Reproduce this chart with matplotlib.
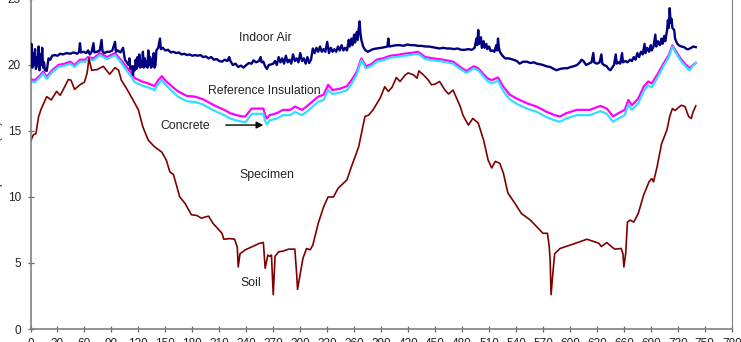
import matplotlib
matplotlib.use("Agg")
import matplotlib.pyplot as plt
import numpy as np

plt.rcParams["font.family"] = ["Liberation Sans", "DejaVu Sans"]

# day axis
X_TICKS = list(range(0, 781, 30))
Y_TICKS = [0, 5, 10, 15, 20, 25]

# (day, temperature) for the soil / specimen trace
SOIL = [
    (0, 14.2), (3, 14.7), (6, 14.8), (9, 16.1), (12, 16.7), (18, 17.6), (23, 17.35), (29, 18.0), (33, 17.7), (38, 18.35),
    (42, 18.9), (45, 18.85), (49, 18.15), (55, 18.5), (60, 18.7), (63, 19.4), (65, 20.5), (68, 19.6), (74, 19.65), (81, 19.9),
    (88, 19.3), (94, 19.8), (98, 19.6), (101, 18.85), (107, 18.2), (114, 17.35), (120, 16.6), (125, 15.3), (131, 14.3), (138, 13.8),
    (146, 13.4), (151, 12.8), (155, 11.9), (159, 11.7), (166, 10.0), (172, 9.5), (179, 8.65), (185, 8.6), (190, 8.4), (198, 8.55),
    (203, 8.0), (213, 7.25), (215, 6.8), (222, 6.85), (227, 6.8), (230, 6.2), (231, 4.7), (233, 5.7), (239, 6.0), (255, 6.5),
    (259, 6.55), (261, 4.6), (264, 5.6), (266, 5.5), (268, 5.6), (270, 2.6), (272, 5.5), (276, 5.85), (281, 5.9), (287, 6.05),
    (294, 6.05), (296, 4.2), (297, 3.0), (300, 4.2), (303, 5.35), (307, 6.1), (311, 6.0), (314, 6.35), (320, 8.0), (326, 9.25),
    (331, 10.0), (337, 10.0), (342, 10.65), (352, 11.3), (357, 12.3), (365, 13.8), (372, 16.1), (376, 16.2), (381, 16.6), (389, 17.5),
    (394, 18.35), (398, 18.0), (402, 18.3), (407, 19.05), (411, 18.75), (417, 19.25), (420, 19.4), (426, 19.25), (430, 19.0), (432, 19.55),
    (437, 19.25), (442, 18.9), (446, 18.5), (450, 18.55), (455, 18.75), (461, 18.1), (465, 17.8), (470, 18.1), (478, 16.85), (481, 16.2),
    (487, 15.45), (492, 15.95), (498, 15.6), (504, 14.3), (509, 12.8), (513, 12.2), (517, 12.7), (522, 12.55), (526, 11.8), (531, 10.3),
    (539, 9.5), (546, 8.75), (556, 8.25), (565, 7.6), (570, 7.25), (575, 7.25), (577, 6.25), (578, 5.2), (579, 2.6), (581, 4.2),
    (583, 5.7), (589, 6.1), (600, 6.35), (619, 6.8), (632, 6.5), (635, 6.25), (641, 6.55), (646, 6.25), (650, 6.05), (657, 6.1),
    (659, 5.7), (660, 4.7), (662, 5.7), (664, 8.1), (667, 8.25), (671, 8.1), (676, 8.75), (682, 10.15), (685, 10.65), (688, 11.15),
    (691, 11.4), (693, 11.15), (697, 12.3), (702, 14.05), (708, 15.1), (711, 16.1), (714, 16.7), (717, 16.55), (721, 16.8), (724, 16.95),
    (728, 16.85), (732, 16.1), (735, 15.95), (737, 16.45), (740, 16.9),
]

# shared days for the two insulation traces
INSUL_DAYS = [
    0, 5, 11, 14, 18, 24, 31, 38, 44, 49,
    55, 61, 64, 70, 77, 85, 94, 99, 105, 111,
    116, 124, 131, 138, 142, 146, 151, 157, 164, 174,
    183, 192, 200, 207, 214, 222, 229, 236, 239, 246,
    259, 261, 263, 266, 274, 281, 289, 294, 302, 307,
    313, 320, 326, 331, 336, 344, 352, 357, 363, 368,
    373, 380, 385, 392, 400, 407, 415, 422, 431, 439,
    448, 459, 470, 480, 485, 493, 498, 508, 513, 520,
    526, 533, 541, 552, 563, 574, 583, 589, 596, 608,
    622, 634, 641, 648, 654, 661, 665, 669, 676, 682,
    687, 691, 697, 704, 710, 714, 717, 723, 728, 733,
    737, 740,
]
REF_INSULATION = [
    18.9, 18.85, 19.25, 19.5, 19.1, 19.6, 20.0, 20.1, 20.25, 20.0,
    20.4, 20.4, 20.6, 20.5, 20.9, 20.6, 20.9, 20.5, 20.0, 19.5,
    19.0, 18.75, 18.6, 18.4, 18.85, 19.15, 18.75, 18.4, 18.0, 17.65,
    17.6, 17.4, 17.1, 16.85, 16.65, 16.35, 16.2, 16.1, 16.1, 16.7,
    16.7, 16.2, 15.95, 16.2, 16.35, 16.6, 16.6, 16.85, 16.6, 16.85,
    17.2, 17.6, 17.75, 18.5, 18.1, 18.2, 18.4, 18.85, 19.5, 20.5,
    19.9, 20.1, 20.4, 20.5, 20.7, 20.75, 20.85, 20.9, 21.0, 20.6,
    20.5, 20.4, 20.25, 19.75, 19.55, 19.9, 19.75, 19.0, 18.85, 19.05,
    18.35, 17.75, 17.45, 17.1, 16.85, 16.45, 16.2, 16.1, 16.35, 16.6,
    16.6, 16.9, 16.7, 16.1, 16.35, 16.6, 17.35, 16.95, 17.45, 18.35,
    18.75, 18.6, 19.25, 20.1, 20.75, 21.5, 21.15, 20.5, 20.1, 19.75,
    20.0, 20.15,
]
CONCRETE = [
    18.75, 18.7, 19.1, 19.35, 18.95, 19.45, 19.85, 19.95, 20.1, 19.85,
    20.25, 20.25, 20.45, 20.35, 20.75, 20.45, 20.75, 20.35, 19.75, 19.2,
    18.7, 18.45, 18.3, 18.1, 18.55, 18.85, 18.45, 18.05, 17.6, 17.25,
    17.2, 17.0, 16.7, 16.45, 16.25, 15.95, 15.8, 15.7, 15.65, 16.3,
    16.3, 15.75, 15.5, 15.8, 15.95, 16.2, 16.2, 16.45, 16.2, 16.45,
    16.8, 17.2, 17.35, 18.1, 17.8, 17.9, 18.1, 18.55, 19.3, 20.35,
    19.75, 19.95, 20.25, 20.35, 20.55, 20.6, 20.7, 20.75, 20.85, 20.45,
    20.35, 20.25, 20.1, 19.6, 19.4, 19.75, 19.6, 18.8, 18.6, 18.8,
    18.0, 17.4, 17.05, 16.7, 16.45, 16.05, 15.8, 15.7, 15.95, 16.2,
    16.2, 16.5, 16.3, 15.7, 15.95, 16.2, 17.0, 16.6, 17.1, 18.0,
    18.45, 18.3, 19.0, 19.9, 20.6, 21.4, 21.0, 20.35, 19.95, 19.6,
    19.95, 20.15,
]

INDOOR_AIR = [
    (0, 20.2), (1, 21.6), (2, 19.8), (3, 20.9), (4, 20.0), (5, 21.2), (6, 19.7), (7, 20.6), (8, 19.9), (9, 21.4),
    (10, 19.6), (11, 20.8), (12, 20.0), (13, 21.3), (14, 19.8), (15, 20.2), (16, 19.6), (18, 19.55), (20, 20.5), (22, 20.4),
    (24, 20.7), (27, 20.75), (30, 20.7), (33, 20.85), (36, 20.8), (40, 20.9), (44, 20.85), (48, 20.95), (52, 20.85), (54, 21.0),
    (55, 21.65), (56, 20.95), (59, 21.0), (62, 20.9), (64, 21.1), (66, 20.8), (68, 21.0), (70, 21.65), (71, 20.95), (74, 21.0),
    (77, 21.1), (79, 21.9), (80, 21.05), (82, 20.9), (85, 21.0), (88, 21.0), (91, 21.1), (94, 21.75), (95, 21.0), (97, 21.1),
    (100, 20.95), (103, 21.3), (104, 20.8), (105, 20.4), (107, 20.2), (109, 20.0), (110, 20.5), (111, 19.7), (113, 19.9), (114, 19.25),
    (115, 19.9), (116, 19.6), (117, 20.4), (118, 19.7), (119, 20.6), (120, 19.9), (121, 20.8), (122, 19.8), (123, 20.3), (124, 19.9),
    (125, 21.0), (126, 19.8), (127, 20.5), (128, 19.9), (129, 20.3), (130, 19.8), (131, 21.1), (132, 20.0), (133, 20.6), (134, 19.8),
    (135, 20.4), (136, 19.9), (137, 20.9), (138, 19.8), (139, 20.0), (140, 21.1), (142, 21.3), (144, 22.0), (145, 21.2), (147, 21.3),
    (150, 21.1), (153, 21.15), (156, 20.95), (159, 21.0), (162, 20.9), (165, 20.95), (168, 20.8), (171, 20.85), (174, 20.75), (177, 20.8),
    (180, 20.7), (183, 20.75), (186, 20.7), (189, 20.75), (192, 20.6), (195, 20.65), (198, 20.5), (201, 20.6), (204, 20.4), (207, 20.45),
    (210, 20.3), (213, 20.25), (216, 20.4), (219, 20.3), (221, 20.6), (222, 20.35), (225, 20.0), (228, 20.1), (231, 19.85), (234, 19.95),
    (237, 19.8), (240, 20.0), (243, 20.15), (246, 20.1), (248, 20.35), (251, 20.2), (254, 20.3), (256, 20.6), (257, 20.2), (259, 20.25),
    (261, 19.9), (263, 19.7), (265, 20.0), (268, 20.05), (270, 20.1), (272, 20.3), (274, 20.0), (276, 20.6), (278, 20.2), (280, 20.5),
    (282, 20.1), (284, 20.7), (286, 20.2), (288, 20.4), (290, 20.1), (292, 20.8), (294, 20.3), (296, 20.5), (298, 20.2), (300, 20.9),
    (302, 20.3), (304, 20.5), (306, 20.1), (308, 20.6), (310, 20.15), (312, 20.4), (314, 21.25), (316, 20.9), (318, 21.3), (320, 21.0),
    (322, 21.4), (324, 21.0), (326, 21.2), (328, 21.0), (330, 21.75), (332, 20.9), (334, 21.3), (336, 21.0), (338, 21.2), (340, 21.0),
    (342, 21.4), (344, 21.1), (346, 21.5), (348, 21.1), (350, 21.3), (352, 21.1), (354, 21.9), (355, 21.4), (357, 22.0), (358, 21.5),
    (360, 22.3), (361, 21.7), (363, 22.5), (364, 21.9), (365, 22.7), (366, 23.3), (367, 22.4), (368, 21.9), (370, 21.4), (372, 21.15),
    (375, 21.0), (378, 21.1), (381, 21.2), (385, 21.25), (390, 21.3), (394, 21.35), (397, 21.4), (398, 22.0), (399, 21.4), (403, 21.45),
    (407, 21.5), (411, 21.5), (415, 21.45), (419, 21.55), (423, 21.5), (427, 21.5), (431, 21.45), (435, 21.45), (439, 21.4), (443, 21.4),
    (447, 21.35), (451, 21.3), (455, 21.25), (459, 21.3), (463, 21.25), (467, 21.25), (471, 21.2), (475, 21.25), (479, 21.15), (483, 21.15),
    (487, 21.2), (491, 21.15), (494, 21.3), (496, 22.0), (497, 21.5), (498, 22.65), (499, 21.6), (501, 22.1), (502, 21.3), (504, 21.8),
    (505, 21.3), (507, 21.6), (508, 21.2), (510, 21.4), (512, 21.05), (514, 21.1), (516, 21.0), (518, 21.5), (519, 21.1), (520, 22.0),
    (521, 21.3), (522, 21.0), (525, 20.7), (528, 20.5), (532, 20.5), (537, 20.4), (541, 20.3), (544, 20.1), (548, 20.25), (552, 20.25),
    (556, 20.15), (560, 20.2), (563, 20.1), (567, 20.05), (570, 20.0), (574, 19.9), (578, 19.85), (582, 19.7), (585, 19.6), (589, 19.7),
    (593, 19.75), (597, 19.75), (601, 19.85), (604, 19.9), (608, 20.0), (611, 20.2), (613, 20.4), (615, 20.3), (618, 20.0), (621, 20.1),
    (624, 20.2), (626, 20.9), (627, 20.2), (630, 20.1), (633, 20.2), (635, 20.8), (636, 20.1), (638, 20.0), (641, 19.9), (643, 19.7),
    (645, 19.6), (647, 19.8), (649, 20.0), (651, 20.8), (652, 20.1), (654, 20.2), (656, 20.1), (658, 20.9), (659, 20.2), (662, 20.3),
    (664, 20.2), (667, 20.4), (669, 20.3), (671, 20.6), (673, 20.4), (675, 20.9), (677, 20.6), (679, 21.0), (681, 20.8), (683, 21.6),
    (684, 20.9), (686, 21.3), (688, 21.0), (690, 21.5), (691, 21.1), (693, 21.4), (695, 22.3), (696, 21.4), (698, 21.8), (700, 21.5),
    (702, 22.0), (703, 21.6), (705, 22.2), (706, 21.8), (708, 22.6), (709, 23.4), (710, 22.8), (711, 24.3), (712, 23.2), (713, 23.5),
    (714, 22.8), (716, 22.65), (717, 22.0), (719, 21.65), (721, 21.5), (724, 21.4), (727, 21.35), (730, 21.2), (732, 21.2), (735, 21.3),
    (737, 21.4), (740, 21.35),
]


def main():
    fig = plt.figure(figsize=(7.41, 3.42), dpi=100)
    ax = fig.add_axes([0.0412, 0.038, 0.9463, 0.965])

    soil = np.array(SOIL)
    air = np.array(INDOOR_AIR)

    ax.plot(air[:, 0], air[:, 1], color="#000080", lw=1.7, zorder=3)
    ax.plot(INSUL_DAYS, REF_INSULATION, color="#ff00ff", lw=1.6, zorder=2)
    ax.plot(INSUL_DAYS, CONCRETE, color="#33ddff", lw=1.6, zorder=2)
    ax.plot(soil[:, 0], soil[:, 1], color="#800000", lw=1.2, zorder=2)

    txt = dict(fontsize=8.8, color="#222222", va="center", ha="left")
    ax.text(232, 22.05, "Indoor Air", **txt)
    ax.text(197.5, 18.0, "Reference Insulation", **txt)
    ax.text(144, 15.4, "Concrete", **txt)
    ax.text(232, 11.65, "Specimen", **txt)
    ax.text(233, 3.5, "Soil", **txt)
    ax.annotate("", xy=(262, 15.45), xytext=(214, 15.45),
                arrowprops=dict(arrowstyle="-|>", color="black", lw=1, mutation_scale=10))

    ax.set_xlim(0, 780)
    ax.set_ylim(0, 25)
    ax.set_xticks(X_TICKS)
    ax.set_yticks(Y_TICKS)
    ax.tick_params(axis="both", direction="inout", length=5, width=0.9, color="#666666",
                   labelsize=8.5, labelcolor="#222222")
    ax.tick_params(axis="x", pad=4)
    ax.tick_params(axis="y", pad=4.5)

    for side in ["left", "bottom", "right"]:
        ax.spines[side].set_color("#808080")
        ax.spines[side].set_linewidth(1.2)
    ax.spines["right"].set_linewidth(0.8)
    ax.spines["top"].set_visible(False)

    ax.set_ylabel("Temperature (°C)", fontsize=8, color="#222222")
    ax.yaxis.set_label_coords(-0.039, 0.5)

    fig.savefig("out.png", dpi=100)
    plt.close(fig)


if __name__ == "__main__":
    main()
